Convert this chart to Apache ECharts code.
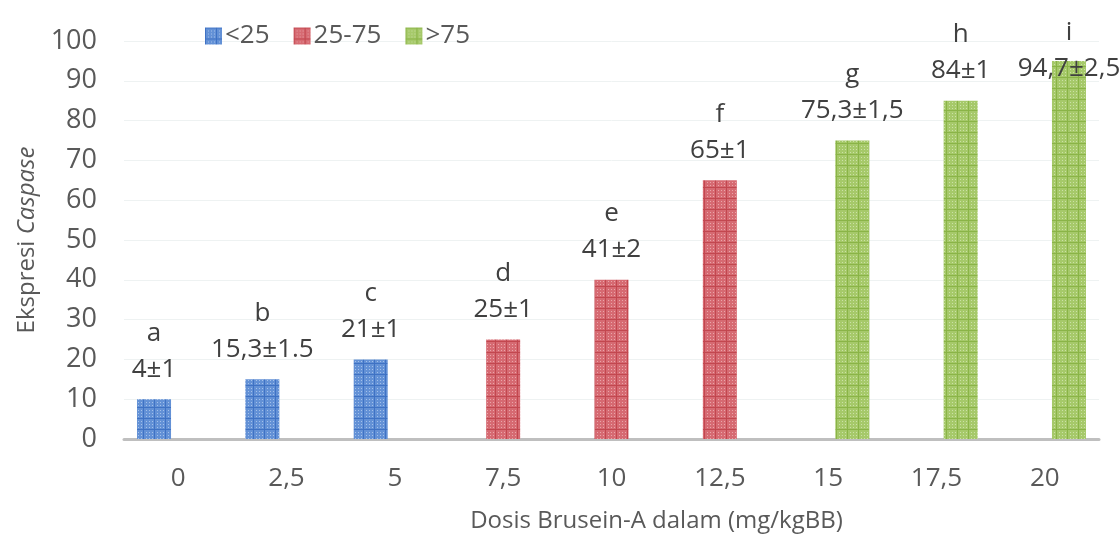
<!DOCTYPE html>
<html>
<head>
<meta charset="utf-8">
<script src="https://cdn.jsdelivr.net/npm/echarts@6/dist/echarts.min.js"></script>
<style>
html,body{margin:0;padding:0;background:#fff;}
#chart{width:1119px;height:538px;}
</style>
</head>
<body>
<div id="chart"></div>
<script>
const categories = ['0', '2,5', '5', '7,5', '10', '12,5', '15', '17,5', '20'];
const seriesNames = ['<25', '25-75', '>75'];
const lowValues  = [10, 15, 20, null, null, null, null, null, null];
const midValues  = [null, null, null, 25, 40, 65, null, null, null];
const highValues = [null, null, null, null, null, null, 75, 85, 95];
const letters = ['a', 'b', 'c', 'd', 'e', 'f', 'g', 'h', 'i'];
const meanSd = ['4±1', '15,3±1.5', '21±1', '25±1', '41±2', '65±1', '75,3±1,5', '84±1', '94,7±2,5'];
const yTicks = [0, 10, 20, 30, 40, 50, 60, 70, 80, 90, 100];

const FONT = '"Open Sans", "Liberation Sans", sans-serif';

function makePattern(base, dark, light) {
  const c = document.createElement('canvas');
  c.width = 11; c.height = 11;
  const ctx = c.getContext('2d');
  ctx.fillStyle = base; ctx.fillRect(0, 0, 11, 11);
  ctx.fillStyle = light;
  [3, 6, 9].forEach(x => [3, 6, 9].forEach(y => ctx.fillRect(x, y, 1, 1)));
  ctx.fillStyle = dark;
  ctx.fillRect(0, 0, 11, 1);
  ctx.fillRect(0, 0, 1, 11);
  return { image: c, repeat: 'repeat' };
}

const colors = [
  makePattern('#6391d6', '#3f72c4', '#a3c0ea'),
  makePattern('#d66a72', '#c2474f', '#eaa5a9'),
  makePattern('#a6c96a', '#8ab447', '#cbe1a6')
];

function labelFor(idx) {
  return '{l|' + letters[idx] + '}\n{v|' + meanSd[idx] + '}';
}

function buildData(values) {
  return values.map((v, i) => {
    if (v === null) return '-';
    const item = { value: v };
    if (i === values.length - 1) item.label = { offset: [0, 38] };
    return item;
  });
}

const labelOpt = {
  show: true,
  position: 'top',
  distance: 12,
  formatter: p => labelFor(p.dataIndex),
  rich: {
    l: { fontSize: 26, fontFamily: FONT, color: '#404040', lineHeight: 36, align: 'center' },
    v: { fontSize: 26, fontFamily: FONT, color: '#404040', lineHeight: 36, align: 'center' }
  }
};

const seriesData = [lowValues, midValues, highValues];

const option = {
  animation: false,
  backgroundColor: '#ffffff',
  textStyle: { fontFamily: FONT },
  legend: {
    left: 200,
    top: 18,
    itemWidth: 17,
    itemHeight: 17,
    itemGap: 24,
    icon: 'rect',
    textStyle: { fontSize: 26, color: '#595959', fontFamily: FONT, padding: [0, 0, 0, -2] },
    data: seriesNames
  },
  grid: { left: 124, right: 20, top: 41, bottom: 97, containLabel: false },
  xAxis: {
    type: 'category',
    data: categories,
    axisTick: { show: false },
    axisLine: { lineStyle: { color: '#bfbfbf', width: 3 } },
    axisLabel: { fontSize: 26, color: '#595959', margin: 27, fontFamily: FONT },
    name: 'Dosis Brusein-A dalam (mg/kgBB)',
    nameLocation: 'middle',
    nameGap: 70,
    nameTextStyle: { fontSize: 24, color: '#595959', fontFamily: FONT, padding: [0, 0, 0, 90] }
  },
  yAxis: {
    type: 'value',
    min: yTicks[0],
    max: yTicks[yTicks.length - 1],
    interval: 10,
    axisLine: { show: false },
    axisTick: { show: false },
    splitLine: { lineStyle: { color: '#eef2f2', width: 1 } },
    axisLabel: { fontSize: 27, color: '#595959', margin: 27, fontFamily: FONT },
    name: '{n|Ekspresi }{i|Caspase}',
    nameLocation: 'middle',
    nameGap: 85,
    nameTextStyle: {
      rich: {
        n: { fontSize: 24, color: '#595959', fontFamily: FONT },
        i: { fontSize: 24, color: '#595959', fontFamily: FONT, fontStyle: 'italic' }
      }
    }
  },
  series: seriesNames.map((name, k) => ({
    name: name,
    type: 'bar',
    barWidth: 34,
    barGap: '-29%',
    data: buildData(seriesData[k]),
    itemStyle: { color: colors[k] },
    label: labelOpt
  }))
};

const chart = echarts.init(document.getElementById('chart'), null, { renderer: 'canvas' });
chart.setOption(option);
</script>
</body>
</html>
